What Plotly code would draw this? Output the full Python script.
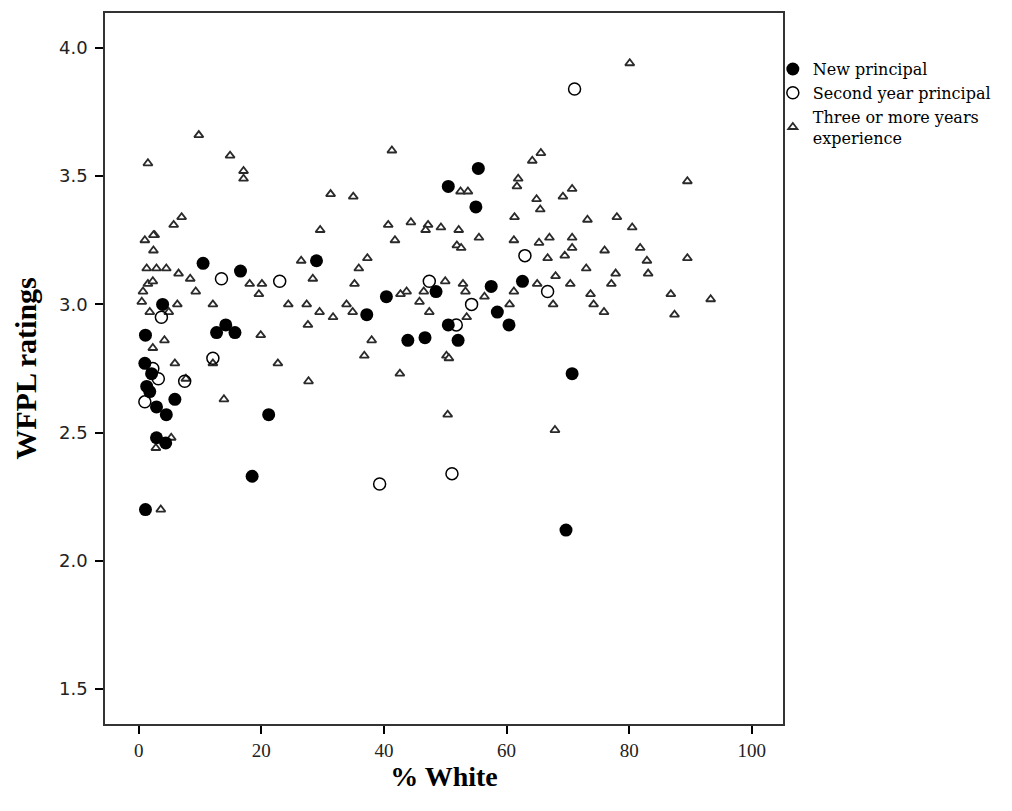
import plotly.graph_objects as go

# New principal (filled circles)
new_x = [1.1, 12.7, 14.2, 15.7, 1.0, 2.1, 1.3, 1.8, 2.9, 4.5, 5.9, 2.9, 4.4, 21.2, 18.5, 1.1,
         10.5, 16.6, 3.9, 29.0, 40.4, 37.2, 48.5, 50.5, 43.9, 46.7, 55.4, 50.5, 55.0, 57.5,
         62.6, 58.5, 60.4, 52.1, 70.7, 69.7]
new_y = [2.88, 2.89, 2.92, 2.89, 2.77, 2.73, 2.68, 2.66, 2.60, 2.57, 2.63, 2.48, 2.46, 2.57, 2.33, 2.20,
         3.16, 3.13, 3.00, 3.17, 3.03, 2.96, 3.05, 2.92, 2.86, 2.87, 3.53, 3.46, 3.38, 3.07,
         3.09, 2.97, 2.92, 2.86, 2.73, 2.12]

# Second year principal (open circles)
sec_x = [13.5, 23.0, 3.7, 12.1, 7.5, 3.2, 2.3, 1.0, 47.4, 39.3, 51.1, 63.0, 66.7, 54.3, 51.8, 71.1]
sec_y = [3.10, 3.09, 2.95, 2.79, 2.70, 2.71, 2.75, 2.62, 3.09, 2.30, 2.34, 3.19, 3.05, 3.00, 2.92, 3.84]

# Three or more years experience (triangles)
exp_x = [9.8, 1.5, 14.9, 17.1, 17.1, 7.0, 5.7, 2.6, 2.4, 1.0, 2.4, 1.3, 2.9, 4.5, 6.5, 8.4,
         1.5, 2.3, 0.7, 9.3, 18.1, 20.1, 19.6, 0.5, 6.3, 12.1, 1.8, 4.9,
         19.9, 4.2, 2.3, 5.9, 12.1, 22.7, 7.7, 13.9, 5.3, 2.8, 3.6,
         41.3, 31.3, 35.0, 29.6, 40.7, 44.4, 47.2, 46.8, 49.3, 41.8, 26.5, 37.3, 35.9, 28.4,
         35.2, 50.0, 46.5, 43.7, 42.7, 45.8, 24.4, 27.4, 33.9, 29.5, 34.9, 31.7, 47.4, 27.6,
         38.0, 36.8, 27.7, 42.6, 50.2, 50.4,
         65.6, 64.2, 61.9, 61.7, 70.7, 69.2, 64.9, 65.5, 52.5, 53.7, 61.3, 73.2, 78.0, 52.2,
         55.5, 51.9, 52.6, 61.2, 65.3, 67.0, 70.7, 70.7, 69.5, 66.7, 76.0, 73.0, 68.0, 77.8,
         77.1, 70.4, 65.0, 61.2, 67.6, 73.7, 74.2, 75.9, 60.5, 56.4, 52.9, 53.3, 53.5,
         50.6, 67.9, 80.1, 89.5, 80.5, 81.8, 82.9, 89.5, 83.1, 86.8, 93.3, 87.4]
exp_y = [3.66, 3.55, 3.58, 3.52, 3.49, 3.34, 3.31, 3.27, 3.27, 3.25, 3.21, 3.14, 3.14, 3.14, 3.12, 3.10,
         3.08, 3.09, 3.05, 3.05, 3.08, 3.08, 3.04, 3.01, 3.00, 3.00, 2.97, 2.97,
         2.88, 2.86, 2.83, 2.77, 2.77, 2.77, 2.71, 2.63, 2.48, 2.44, 2.20,
         3.60, 3.43, 3.42, 3.29, 3.31, 3.32, 3.31, 3.29, 3.30, 3.25, 3.17, 3.18, 3.14, 3.10,
         3.08, 3.09, 3.05, 3.05, 3.04, 3.01, 3.00, 3.00, 3.00, 2.97, 2.97, 2.95, 2.97, 2.92,
         2.86, 2.80, 2.70, 2.73, 2.80, 2.57,
         3.59, 3.56, 3.49, 3.46, 3.45, 3.42, 3.41, 3.37, 3.44, 3.44, 3.34, 3.33, 3.34, 3.29,
         3.26, 3.23, 3.22, 3.25, 3.24, 3.26, 3.26, 3.22, 3.19, 3.18, 3.21, 3.14, 3.11, 3.12,
         3.08, 3.08, 3.08, 3.05, 3.00, 3.04, 3.00, 2.97, 3.00, 3.03, 3.08, 3.05, 2.95,
         2.79, 2.51, 3.94, 3.48, 3.30, 3.22, 3.17, 3.18, 3.12, 3.04, 3.02, 2.96]

x_ticks = [0, 20, 40, 60, 80, 100]
y_ticks = [1.5, 2.0, 2.5, 3.0, 3.5, 4.0]
y_tick_text = ["1.5", "2.0", "2.5", "3.0", "3.5", "4.0"]

fig = go.Figure()
fig.add_trace(go.Scatter(
    x=exp_x, y=exp_y, mode="markers", name="Three or more years<br>experience",
    legendrank=3,
    marker=dict(symbol="triangle-up", size=8, color="white",
                line=dict(color="#2a2a2a", width=1.8))))
fig.add_trace(go.Scatter(
    x=sec_x, y=sec_y, mode="markers", name="Second year principal",
    legendrank=2,
    marker=dict(symbol="circle-open", size=12, color="black",
                line=dict(color="black", width=1.5))))
fig.add_trace(go.Scatter(
    x=new_x, y=new_y, mode="markers", name="New principal",
    legendrank=1,
    marker=dict(symbol="circle", size=13, color="black",
                line=dict(color="black", width=0))))

serif = "Liberation Serif, Times New Roman, serif"
fig.update_layout(
    width=1012, height=811,
    margin=dict(l=105, r=229, t=11, b=87),
    plot_bgcolor="white", paper_bgcolor="white",
    font=dict(family=serif, color="black", size=16),
    showlegend=True,
    legend=dict(x=0.985, y=0.945, xanchor="left", yanchor="top",
                font=dict(family="DejaVu Serif, serif", size=16, color="black"),
                bgcolor="rgba(0,0,0,0)", itemsizing="trace",
                tracegroupgap=0, itemwidth=30),
    xaxis=dict(range=[-5.5, 105.1], tickvals=x_ticks, ticktext=[str(v) for v in x_ticks],
               showgrid=False, zeroline=False, showline=True, mirror=True,
               linecolor="#333333", linewidth=1.5, ticks="outside", ticklen=8,
               tickcolor="black", tickwidth=1.5,
               tickfont=dict(family=serif, size=19, color="#222222"),
               title=dict(text="<b>% White</b>", font=dict(family=serif, size=28, color="black"),
                          standoff=0)),
    yaxis=dict(range=[1.364, 4.136], tickvals=y_ticks, ticktext=y_tick_text,
               showgrid=False, zeroline=False, showline=True, mirror=True,
               linecolor="#333333", linewidth=1.5, ticks="outside", ticklen=8,
               tickcolor="black", tickwidth=1.5, ticklabelstandoff=4,
               tickfont=dict(family="DejaVu Sans, sans-serif", size=18, color="#222222"),
               title=dict(text="<b>WFPL ratings</b>", font=dict(family=serif, size=30, color="black"),
                          standoff=14)),
)

fig.write_html("out.html")
